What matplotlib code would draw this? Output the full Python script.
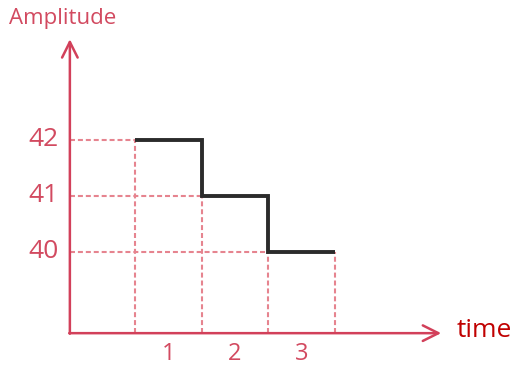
import numpy as np
import matplotlib.pyplot as plt

# time bins and amplitude per bin
times = [1, 2, 3]
amplitudes = [42, 41, 40]
tick_labels = ['1', '2', '3']

axis_col = '#d2405a'
dash_col = '#e6848f'
text_col = '#d24a60'
time_col = '#c00000'

edges = np.array([t - 0.5 for t in times] + [times[-1] + 0.5])

fig = plt.figure(figsize=(5.19, 3.69), dpi=100)
ax = fig.add_axes([0, 0, 1, 1])
ax.set_xlim(-1.53, 6.27)
ax.set_ylim(37.91, 44.5)
ax.axis('off')

x0 = -0.48   # where the axes cross
y0 = 38.55
dash = (0, (2.4, 1.4))

# dashed guide lines
for i, a in enumerate(amplitudes):
    ax.plot([x0, edges[i]], [a, a], ls=dash, color=dash_col, lw=1.5, zorder=1)
for i, e in enumerate(edges):
    top = amplitudes[min(i, len(amplitudes) - 1)]
    if i > 0:
        top = min(top, amplitudes[i - 1])
    ax.plot([e, e], [y0, top], ls=dash, color=dash_col, lw=1.5, zorder=1)

# the step signal
ax.stairs(amplitudes, edges, baseline=None, color='#2b2b2b', lw=2.8, zorder=3)

# axes with arrows
ax.annotate('', xy=(5.1, y0), xytext=(x0 - 0.01, y0),
            arrowprops=dict(arrowstyle='->', color=axis_col, lw=1.8,
                            mutation_scale=28, shrinkA=0, shrinkB=0))
ax.annotate('', xy=(x0, 43.8), xytext=(x0, y0 - 0.01),
            arrowprops=dict(arrowstyle='->', color=axis_col, lw=1.8,
                            mutation_scale=28, shrinkA=0, shrinkB=0))

# labels
for a in amplitudes:
    ax.text(-0.88, a, str(a), color=text_col, fontsize=19, family='Open Sans',
            ha='center', va='center')
for t, lab in zip(times, tick_labels):
    ax.text(t, 38.17, lab, color=text_col, fontsize=17, family='Open Sans',
            ha='center', va='center')
ax.text(-1.39, 44.17, 'Amplitude', color=text_col, fontsize=16, family='Open Sans',
        ha='left', va='center')
ax.text(5.33, 38.6, 'time', color=time_col, fontsize=19, family='Open Sans',
        ha='left', va='center')

fig.savefig('out.png', dpi=100)
